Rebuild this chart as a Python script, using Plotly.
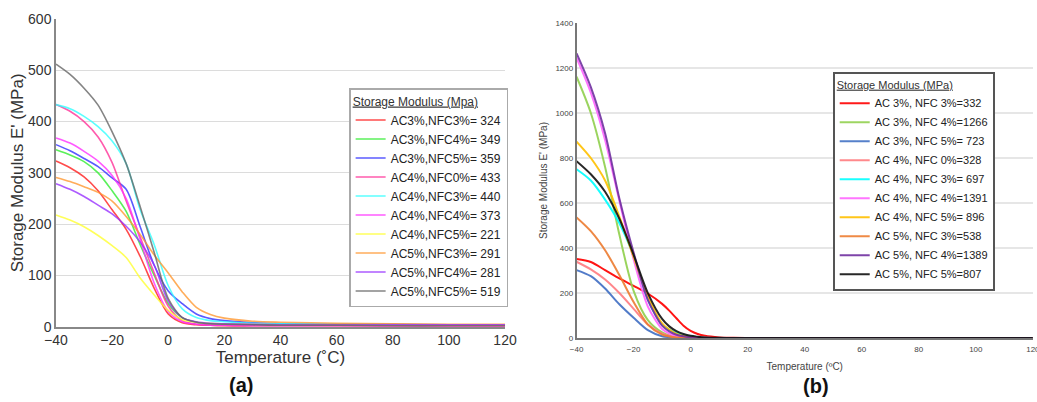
import plotly.graph_objects as go

# ---------------- Panel (a) ----------------
temp_a = [-40, -35, -30, -25, -20, -15, -10, -5, 0, 5, 10, 15, 20, 30, 40, 60, 80, 100, 120]
names_a = ["AC3%,NFC3%= 324", "AC3%,NFC4%= 349", "AC3%,NFC5%= 359", "AC4%,NFC0%= 433",
           "AC4%,NFC3%= 440", "AC4%,NFC4%= 373", "AC4%,NFC5%= 221", "AC5%,NFC3%= 291",
           "AC5%,NFC4%= 281", "AC5%,NFC5%= 519"]
colors_a = ["#ff2020", "#33ee33", "#3333ff", "#ff3399", "#33ffff", "#ff33ff", "#ffff33",
            "#ff9933", "#9933ff", "#666666"]
a_ac3_nfc3 = [323, 310, 292, 265, 228, 190, 137, 75, 25, 8, 4, 3, 2, 2, 2, 2, 2, 2, 2]
a_ac3_nfc4 = [345, 335, 322, 300, 265, 225, 160, 100, 45, 18, 9, 6, 5, 4, 3, 3, 3, 3, 3]
a_ac3_nfc5 = [355, 343, 328, 312, 290, 268, 195, 120, 70, 45, 25, 16, 12, 8, 6, 5, 5, 4, 4]
a_ac4_nfc0 = [433, 420, 400, 370, 320, 245, 175, 105, 40, 12, 5, 3, 2, 2, 2, 2, 1, 1, 1]
a_ac4_nfc3 = [433, 425, 410, 390, 362, 318, 228, 160, 80, 35, 18, 12, 10, 7, 6, 5, 4, 4, 4]
a_ac4_nfc4 = [368, 358, 342, 323, 295, 250, 170, 85, 30, 10, 5, 3, 3, 2, 2, 2, 2, 2, 2]
a_ac4_nfc5 = [218, 208, 195, 178, 158, 135, 95, 62, 32, 14, 9, 7, 6, 5, 4, 4, 3, 3, 3]
a_ac5_nfc3 = [291, 283, 273, 262, 245, 215, 180, 140, 105, 68, 38, 24, 17, 11, 9, 7, 6, 5, 5]
a_ac5_nfc4 = [279, 268, 254, 237, 220, 196, 165, 120, 50, 18, 10, 7, 6, 5, 4, 4, 4, 4, 4]
a_ac5_nfc5 = [512, 492, 465, 432, 380, 318, 234, 145, 55, 18, 9, 6, 5, 4, 3, 3, 2, 2, 2]
series_a = [a_ac3_nfc3, a_ac3_nfc4, a_ac3_nfc5, a_ac4_nfc0, a_ac4_nfc3,
            a_ac4_nfc4, a_ac4_nfc5, a_ac5_nfc3, a_ac5_nfc4, a_ac5_nfc5]

# ---------------- Panel (b) ----------------
temp_b = [-40, -35, -30, -25, -20, -15, -10, -7.5, -5, -2.5, 0, 2.5, 5, 10, 15, 20, 40, 60, 80, 100, 120]
names_b = ["AC 3%, NFC 3%=332", "AC 3%, NFC 4%=1266", "AC 3%, NFC 5%= 723", "AC 4%, NFC 0%=328",
           "AC 4%, NFC 3%= 697", "AC 4%, NFC 4%=1391", "AC 4%, NFC 5%= 896", "AC 5%, NFC 3%=538",
           "AC 5%, NFC 4%=1389", "AC 5%, NFC 5%=807"]
colors_b = ["#ff0000", "#92d050", "#4472c4", "#ff7c80", "#00ffff", "#ff66ff", "#ffc000",
            "#ed7d31", "#7030a0", "#111111"]
b_ac3_nfc3 = [351, 338, 302, 265, 232, 198, 152, 122, 88, 55, 32, 18, 10, 3, 1, 0, 0, 0, 0, 0, 0]
b_ac3_nfc4 = [1161, 1000, 760, 460, 210, 80, 25, 12, 6, 3, 2, 1, 0, 0, 0, 0, 0, 0, 0, 0, 0]
b_ac3_nfc5 = [302, 275, 220, 150, 90, 35, 8, 4, 2, 1, 0, 0, 0, 0, 0, 0, 0, 0, 0, 0, 0]
b_ac4_nfc0 = [339, 305, 260, 200, 130, 60, 20, 10, 5, 2, 1, 0, 0, 0, 0, 0, 0, 0, 0, 0, 0]
b_ac4_nfc3 = [750, 700, 615, 510, 365, 170, 60, 38, 24, 14, 8, 4, 2, 0, 0, 0, 0, 0, 0, 0, 0]
b_ac4_nfc4 = [1245, 1090, 880, 610, 350, 140, 40, 20, 10, 5, 3, 2, 1, 0, 0, 0, 0, 0, 0, 0, 0]
b_ac4_nfc5 = [873, 800, 700, 540, 360, 185, 65, 38, 20, 10, 5, 2, 1, 0, 0, 0, 0, 0, 0, 0, 0]
b_ac5_nfc3 = [536, 475, 390, 280, 160, 60, 15, 7, 3, 2, 1, 0, 0, 0, 0, 0, 0, 0, 0, 0, 0]
b_ac5_nfc4 = [1265, 1115, 910, 620, 380, 170, 55, 30, 15, 8, 4, 2, 1, 0, 0, 0, 0, 0, 0, 0, 0]
b_ac5_nfc5 = [786, 728, 650, 530, 370, 200, 85, 52, 31, 18, 10, 6, 3, 1, 0, 0, 0, 0, 0, 0, 0]
series_b = [b_ac3_nfc3, b_ac3_nfc4, b_ac3_nfc5, b_ac4_nfc0, b_ac4_nfc3,
            b_ac4_nfc4, b_ac4_nfc5, b_ac5_nfc3, b_ac5_nfc4, b_ac5_nfc5]

FONT = "Liberation Sans, Arial, sans-serif"

fig = go.Figure()
for name, col, ys in zip(names_a, colors_a, series_a):
    fig.add_trace(go.Scatter(x=temp_a, y=ys, name=name, mode="lines",
                             line=dict(color=col, width=1.6, shape="spline", smoothing=0.8),
                             opacity=0.8, xaxis="x", yaxis="y", legend="legend"))
for name, col, ys in zip(names_b, colors_b, series_b):
    fig.add_trace(go.Scatter(x=temp_b, y=ys, name=name, mode="lines",
                             line=dict(color=col, width=2, shape="spline", smoothing=0.8),
                             opacity=0.9, xaxis="x2", yaxis="y2", legend="legend2"))

fig.update_layout(
    width=1037, height=402,
    margin=dict(l=0, r=0, t=0, b=0, autoexpand=False),
    paper_bgcolor="white", plot_bgcolor="white",
    font=dict(family=FONT, color="#333333"),
    showlegend=True,
    xaxis=dict(domain=[0.054, 0.487], range=[-40, 120], tickvals=[-40, -20, 0, 20, 40, 60, 80, 100, 120],
               showgrid=False, zeroline=False, showline=True, linecolor="#888888", linewidth=1.5,
               tickfont=dict(size=14, color="#333333"), ticks="", automargin=False,
               title=dict(text="Temperature (˚C)", font=dict(size=17, color="#333333"), standoff=4),
               anchor="y"),
    yaxis=dict(domain=[0.187, 0.953], range=[0, 600], tickvals=[0, 100, 200, 300, 400, 500, 600],
               showgrid=True, gridcolor="#dddddd", gridwidth=1, zeroline=False, showline=True,
               linecolor="#888888", linewidth=1.5, tickfont=dict(size=14, color="#333333"), ticks="",
               automargin=False,
               title=dict(text="Storage Modulus E' (MPa)", font=dict(size=17, color="#333333"), standoff=0),
               anchor="x"),
    xaxis2=dict(domain=[0.556, 0.996], range=[-40, 120], tickvals=[-40, -20, 0, 20, 40, 60, 80, 100, 120],
                showgrid=False, zeroline=False, showline=True, linecolor="#777777", linewidth=1.5,
                tickfont=dict(size=8, color="#444444"), ticks="", automargin=False,
                ticklabeloverflow="allow", ticklabelstandoff=3,
                title=dict(text="Temperature (ºC)", font=dict(size=10, color="#444444"), standoff=10),
                anchor="y2"),
    yaxis2=dict(domain=[0.159, 0.943], range=[0, 1400], tickvals=[0, 200, 400, 600, 800, 1000, 1200, 1400],
                showgrid=True, gridcolor="#e6e6e6", gridwidth=1.5, zeroline=False, showline=True,
                linecolor="#777777", linewidth=1.5, tickfont=dict(size=8, color="#444444"), ticks="",
                automargin=False,
                title=dict(text="Storage Modulus E' (MPa)", font=dict(size=10, color="#444444"), standoff=6),
                anchor="x2"),
    legend=dict(x=0.49, xanchor="right", y=0.78, yanchor="top",
                bgcolor="white", bordercolor="#aaaaaa", borderwidth=1.5,
                font=dict(size=12, color="#222222"),
                title=dict(text="<u>Storage Modulus (Mpa)</u>", side="top",
                           font=dict(size=12, color="#333333")),
                itemwidth=30, tracegroupgap=0),
    legend2=dict(x=0.803, xanchor="left", y=0.82, yanchor="top",
                 bgcolor="white", bordercolor="#555555", borderwidth=2,
                 font=dict(size=11, color="#222222"),
                 title=dict(text="<u>Storage Modulus (MPa)</u>", side="top",
                            font=dict(size=11, color="#333333")),
                 itemwidth=30, tracegroupgap=0),
    annotations=[
        dict(text="<b>(a)</b>", x=0.232, y=0.042, xref="paper", yref="paper",
             xanchor="center", yanchor="middle",
             showarrow=False, font=dict(size=20, color="#111111")),
        dict(text="<b>(b)</b>", x=0.787, y=0.04, xref="paper", yref="paper",
             xanchor="center", yanchor="middle",
             showarrow=False, font=dict(size=20, color="#111111")),
    ],
)

fig.write_html("out.html", config={"displayModeBar": False},
               post_script="document.body.style.margin='0';document.body.style.overflow='hidden';")
